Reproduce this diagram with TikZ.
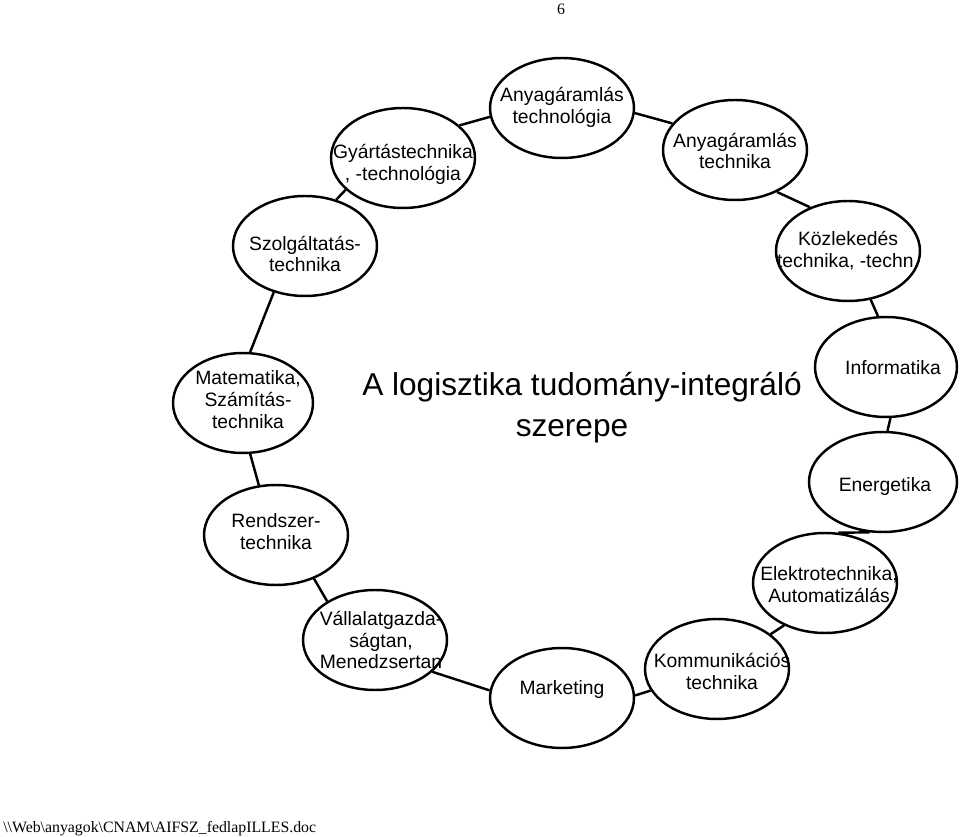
\documentclass[tikz,border=0pt]{standalone}
\usepackage{fontspec}
\setmainfont{Liberation Serif}
\newfontfamily\arialfont{Liberation Sans}
\usetikzlibrary{shapes.geometric}

\begin{document}
\begin{tikzpicture}
  [x=0.02cm,y=-0.02cm,
   bubble/.style={ellipse,draw,line width=1.4pt,minimum width=2.88cm,minimum height=2cm,inner sep=0pt},
   lbl/.style={font=\arialfont\fontsize{11}{12.5}\selectfont,align=center,inner sep=0pt},
   link/.style={line width=1.4pt}]
  \useasboundingbox (0,0) rectangle (960,837);

  \node (pgnum) at (561,9) {\fontsize{9}{11}\selectfont 6};
  \node (fname) [anchor=base west,inner sep=0pt] at (3,832) {\fontsize{9}{11}\selectfont
    \textbackslash\textbackslash Web\textbackslash anyagok\textbackslash CNAM\textbackslash AIFSZ\_fedlapILLES.doc};

  \node (tit1) [anchor=base,inner sep=0pt,font=\arialfont\fontsize{18}{23}\selectfont] at (582,396) {A logisztika tudomány-integráló};
  \node (tit2) [anchor=base,inner sep=0pt,font=\arialfont\fontsize{18}{23}\selectfont] at (572,437) {szerepe};

  \node[bubble] (anyt) at (562,108) {};
  \node[bubble] (anyk) at (735,150) {};
  \node[bubble] (gyar) at (403,158) {};
  \node[bubble] (szol) at (305,246) {};
  \node[bubble] (kozl) at (848,251) {};
  \node[bubble,minimum width=2.84cm] (info) at (886,367) {};
  \node[bubble,minimum width=2.96cm] (ener) at (883,482) {};
  \node[bubble] (elek) at (825,583) {};
  \node[bubble] (komm) at (717,669) {};
  \node[bubble] (mark) at (562,698) {};
  \node[bubble] (vall) at (375,640) {};
  \node[bubble] (rend) at (276,535) {};
  \node[bubble,minimum width=2.8cm] (mate) at (243,403) {};

  \node[lbl] (anyt-t) at (562,107) {Anyagáramlás\\technológia};
  \node[lbl] (anyk-t) at (735,151) {Anyagáramlás\\technika};
  \node[lbl] (gyar-t) at (403,164) {Gyártástechnika\\, -technológia};
  \node[lbl] (szol-t) at (305,254) {Szolgáltatás-\\technika};
  \node[lbl] (kozl-t) at (848,251) {Közlekedés\\technika, -techn.};
  \node[lbl] (info-t) at (893,368) {Informatika};
  \node[lbl] (ener-t) at (885,487) {Energetika};
  \node[lbl] (elek-t) at (829,585) {Elektrotechnika,\\Automatizálás};
  \node[lbl] (komm-t) at (722,671) {Kommunikációs\\technika};
  \node[lbl] (mark-t) at (562,690) {Marketing};
  \node[lbl] (vall-t) at (381,640) {Vállalatgazda-\\ságtan,\\Menedzsertan};
  \node[lbl] (rend-t) at (276,532) {Rendszer-\\technika};
  \node[lbl] (mate-t) at (248,400) {Matematika,\\Számítás-\\technika};

  \draw[link] (anyt.356) -- (anyk.157);
  \draw[link] (gyar.30) -- (anyt.187);
  \draw[link] (gyar.209) -- (szol.56);
  \draw[link] (szol.236) -- (mate.82);
  \draw[link] (mate.278) -- (rend.109);
  \draw[link] (rend.311) -- (vall.141);
  \draw[link] (vall.331) -- (mark.174);
  \draw[link] (mark.2) -- (komm.198);
  \draw[link] (komm.33) -- (elek.226);
  \draw[link] (elek.75) -- (ener.255);
  \draw[link] (ener.85) -- (info.275);
  \draw[link] (info.99) -- (kozl.295);
  \draw[link] (kozl.131) -- (anyk.315);
\end{tikzpicture}
\end{document}
